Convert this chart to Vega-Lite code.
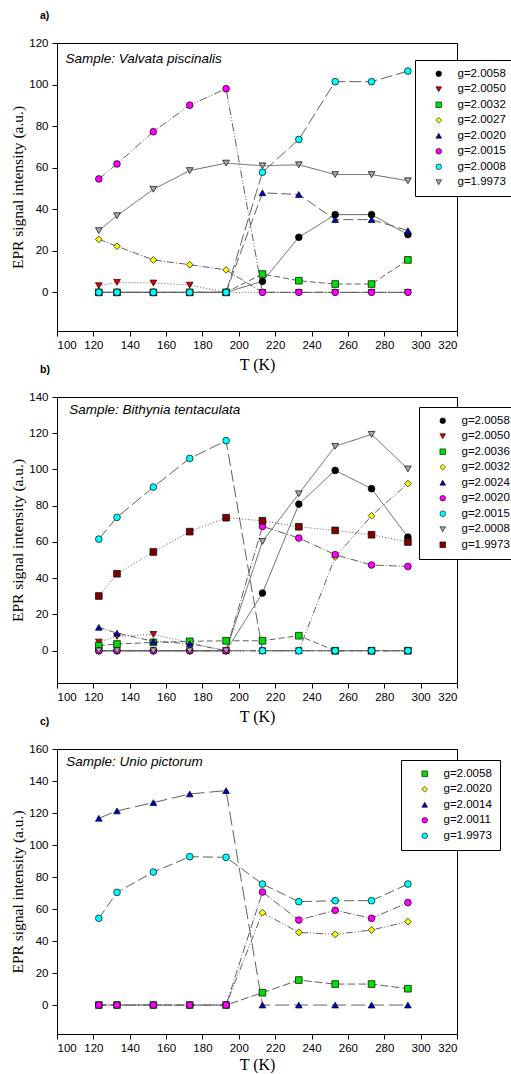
{
"$schema": "https://vega.github.io/schema/vega-lite/v6.json",
"background": "white",
"padding": {"left": 10, "top": 10, "right": 0, "bottom": 0},
"config": {
  "view": {"stroke": "black", "strokeWidth": 1},
  "axis": {"grid": false, "domain": false, "tickColor": "black", "tickSize": 5, "labelFont": "Liberation Sans", "labelFontSize": 11.5, "labelColor": "black", "titleFont": "Liberation Serif", "titleFontWeight": "normal", "titleColor": "black"},
  "axisX": {"titleFontSize": 16, "labelPadding": 3, "titlePadding": 6},
  "axisY": {"titleFontSize": 15.5, "labelPadding": 4, "titlePadding": 3},
  "legend": {"fillColor": "white", "strokeColor": "black", "padding": 8, "symbolOffset": 10, "labelOffset": 13, "labelFont": "Liberation Sans", "labelFontSize": 11.5, "labelColor": "black", "symbolStrokeColor": "black", "symbolStrokeWidth": 0.6, "symbolSize": 32, "rowPadding": 2.5},
  "title": {"anchor": "start", "frame": "group", "font": "Liberation Sans", "fontSize": 10.5, "fontWeight": "bold", "color": "black", "dx": -17, "offset": 16}
},
"datasets": {
"a": [
{"T":123,"s":"g=2.0058","v":0},{"T":133,"s":"g=2.0058","v":0},{"T":153,"s":"g=2.0058","v":0},{"T":173,"s":"g=2.0058","v":0},{"T":193,"s":"g=2.0058","v":0},{"T":213,"s":"g=2.0058","v":5.3},{"T":233,"s":"g=2.0058","v":26.5},{"T":253,"s":"g=2.0058","v":37.4},{"T":273,"s":"g=2.0058","v":37.4},{"T":293,"s":"g=2.0058","v":27.8},
{"T":123,"s":"g=2.0050","v":3.2},{"T":133,"s":"g=2.0050","v":4.8},{"T":153,"s":"g=2.0050","v":4.5},{"T":173,"s":"g=2.0050","v":3.5},{"T":193,"s":"g=2.0050","v":0},{"T":213,"s":"g=2.0050","v":0},{"T":233,"s":"g=2.0050","v":0},{"T":253,"s":"g=2.0050","v":0},{"T":273,"s":"g=2.0050","v":0},{"T":293,"s":"g=2.0050","v":0},
{"T":123,"s":"g=2.0032","v":0},{"T":133,"s":"g=2.0032","v":0},{"T":153,"s":"g=2.0032","v":0},{"T":173,"s":"g=2.0032","v":0},{"T":193,"s":"g=2.0032","v":0},{"T":213,"s":"g=2.0032","v":8.8},{"T":233,"s":"g=2.0032","v":5.6},{"T":253,"s":"g=2.0032","v":4.0},{"T":273,"s":"g=2.0032","v":4.0},{"T":293,"s":"g=2.0032","v":15.6},
{"T":123,"s":"g=2.0027","v":25.5},{"T":133,"s":"g=2.0027","v":22.2},{"T":153,"s":"g=2.0027","v":15.6},{"T":173,"s":"g=2.0027","v":13.3},{"T":193,"s":"g=2.0027","v":10.8},{"T":213,"s":"g=2.0027","v":0},{"T":233,"s":"g=2.0027","v":0},{"T":253,"s":"g=2.0027","v":0},{"T":273,"s":"g=2.0027","v":0},{"T":293,"s":"g=2.0027","v":0},
{"T":123,"s":"g=2.0020","v":0},{"T":133,"s":"g=2.0020","v":0},{"T":153,"s":"g=2.0020","v":0},{"T":173,"s":"g=2.0020","v":0},{"T":193,"s":"g=2.0020","v":0},{"T":213,"s":"g=2.0020","v":47.9},{"T":233,"s":"g=2.0020","v":47.1},{"T":253,"s":"g=2.0020","v":35.0},{"T":273,"s":"g=2.0020","v":35.0},{"T":293,"s":"g=2.0020","v":29.7},
{"T":123,"s":"g=2.0015","v":54.6},{"T":133,"s":"g=2.0015","v":61.8},{"T":153,"s":"g=2.0015","v":77.3},{"T":173,"s":"g=2.0015","v":90.1},{"T":193,"s":"g=2.0015","v":98.0},{"T":213,"s":"g=2.0015","v":0},{"T":233,"s":"g=2.0015","v":0},{"T":253,"s":"g=2.0015","v":0},{"T":273,"s":"g=2.0015","v":0},{"T":293,"s":"g=2.0015","v":0},
{"T":123,"s":"g=2.0008","v":0},{"T":133,"s":"g=2.0008","v":0},{"T":153,"s":"g=2.0008","v":0},{"T":173,"s":"g=2.0008","v":0},{"T":193,"s":"g=2.0008","v":0},{"T":213,"s":"g=2.0008","v":57.8},{"T":233,"s":"g=2.0008","v":73.6},{"T":253,"s":"g=2.0008","v":101.4},{"T":273,"s":"g=2.0008","v":101.4},{"T":293,"s":"g=2.0008","v":106.5},
{"T":123,"s":"g=1.9973","v":29.7},{"T":133,"s":"g=1.9973","v":36.9},{"T":153,"s":"g=1.9973","v":49.6},{"T":173,"s":"g=1.9973","v":58.6},{"T":193,"s":"g=1.9973","v":62.2},{"T":213,"s":"g=1.9973","v":60.9},{"T":233,"s":"g=1.9973","v":61.4},{"T":253,"s":"g=1.9973","v":56.7},{"T":273,"s":"g=1.9973","v":56.7},{"T":293,"s":"g=1.9973","v":53.7}
],
"b": [
{"T":123,"s":"g=2.0058","v":0},{"T":133,"s":"g=2.0058","v":0},{"T":153,"s":"g=2.0058","v":0},{"T":173,"s":"g=2.0058","v":0},{"T":193,"s":"g=2.0058","v":0},{"T":213,"s":"g=2.0058","v":31.8},{"T":233,"s":"g=2.0058","v":80.9},{"T":253,"s":"g=2.0058","v":99.5},{"T":273,"s":"g=2.0058","v":89.4},{"T":293,"s":"g=2.0058","v":62.7},
{"T":123,"s":"g=2.0050","v":4.8},{"T":133,"s":"g=2.0050","v":7.9},{"T":153,"s":"g=2.0050","v":9.0},{"T":173,"s":"g=2.0050","v":4.5},{"T":193,"s":"g=2.0050","v":0},{"T":213,"s":"g=2.0050","v":0},{"T":233,"s":"g=2.0050","v":0},{"T":253,"s":"g=2.0050","v":0},{"T":273,"s":"g=2.0050","v":0},{"T":293,"s":"g=2.0050","v":0},
{"T":123,"s":"g=2.0036","v":2.8},{"T":133,"s":"g=2.0036","v":3.7},{"T":153,"s":"g=2.0036","v":4.6},{"T":173,"s":"g=2.0036","v":5.2},{"T":193,"s":"g=2.0036","v":5.5},{"T":213,"s":"g=2.0036","v":5.5},{"T":233,"s":"g=2.0036","v":8.3},{"T":253,"s":"g=2.0036","v":0},{"T":273,"s":"g=2.0036","v":0},{"T":293,"s":"g=2.0036","v":0},
{"T":123,"s":"g=2.0032","v":0},{"T":133,"s":"g=2.0032","v":0},{"T":153,"s":"g=2.0032","v":0},{"T":173,"s":"g=2.0032","v":0},{"T":193,"s":"g=2.0032","v":0},{"T":213,"s":"g=2.0032","v":0},{"T":233,"s":"g=2.0032","v":0},{"T":253,"s":"g=2.0032","v":51.7},{"T":273,"s":"g=2.0032","v":74.5},{"T":293,"s":"g=2.0032","v":92.2},
{"T":123,"s":"g=2.0024","v":12.9},{"T":133,"s":"g=2.0024","v":9.7},{"T":153,"s":"g=2.0024","v":5.2},{"T":173,"s":"g=2.0024","v":3.9},{"T":193,"s":"g=2.0024","v":0},{"T":213,"s":"g=2.0024","v":0},{"T":233,"s":"g=2.0024","v":0},{"T":253,"s":"g=2.0024","v":0},{"T":273,"s":"g=2.0024","v":0},{"T":293,"s":"g=2.0024","v":0},
{"T":123,"s":"g=2.0020","v":0},{"T":133,"s":"g=2.0020","v":0},{"T":153,"s":"g=2.0020","v":0},{"T":173,"s":"g=2.0020","v":0},{"T":193,"s":"g=2.0020","v":0},{"T":213,"s":"g=2.0020","v":68.6},{"T":233,"s":"g=2.0020","v":62.2},{"T":253,"s":"g=2.0020","v":53.0},{"T":273,"s":"g=2.0020","v":47.3},{"T":293,"s":"g=2.0020","v":46.5},
{"T":123,"s":"g=2.0015","v":61.6},{"T":133,"s":"g=2.0015","v":73.6},{"T":153,"s":"g=2.0015","v":90.3},{"T":173,"s":"g=2.0015","v":106.1},{"T":193,"s":"g=2.0015","v":115.9},{"T":213,"s":"g=2.0015","v":0},{"T":233,"s":"g=2.0015","v":0},{"T":253,"s":"g=2.0015","v":0},{"T":273,"s":"g=2.0015","v":0},{"T":293,"s":"g=2.0015","v":0},
{"T":123,"s":"g=2.0008","v":0},{"T":133,"s":"g=2.0008","v":0},{"T":153,"s":"g=2.0008","v":0},{"T":173,"s":"g=2.0008","v":0},{"T":193,"s":"g=2.0008","v":0},{"T":213,"s":"g=2.0008","v":60.3},{"T":233,"s":"g=2.0008","v":86.6},{"T":253,"s":"g=2.0008","v":112.8},{"T":273,"s":"g=2.0008","v":119.4},{"T":293,"s":"g=2.0008","v":100.3},
{"T":123,"s":"g=1.9973","v":30.2},{"T":133,"s":"g=1.9973","v":42.5},{"T":153,"s":"g=1.9973","v":54.5},{"T":173,"s":"g=1.9973","v":65.7},{"T":193,"s":"g=1.9973","v":73.4},{"T":213,"s":"g=1.9973","v":71.7},{"T":233,"s":"g=1.9973","v":68.4},{"T":253,"s":"g=1.9973","v":66.4},{"T":273,"s":"g=1.9973","v":64.0},{"T":293,"s":"g=1.9973","v":60.0}
],
"c": [
{"T":123,"s":"g=2.0058","v":0},{"T":133,"s":"g=2.0058","v":0},{"T":153,"s":"g=2.0058","v":0},{"T":173,"s":"g=2.0058","v":0},{"T":193,"s":"g=2.0058","v":0},{"T":213,"s":"g=2.0058","v":7.7},{"T":233,"s":"g=2.0058","v":15.6},{"T":253,"s":"g=2.0058","v":13.1},{"T":273,"s":"g=2.0058","v":13.1},{"T":293,"s":"g=2.0058","v":10.2},
{"T":123,"s":"g=2.0020","v":0},{"T":133,"s":"g=2.0020","v":0},{"T":153,"s":"g=2.0020","v":0},{"T":173,"s":"g=2.0020","v":0},{"T":193,"s":"g=2.0020","v":0},{"T":213,"s":"g=2.0020","v":57.7},{"T":233,"s":"g=2.0020","v":45.4},{"T":253,"s":"g=2.0020","v":44.2},{"T":273,"s":"g=2.0020","v":46.9},{"T":293,"s":"g=2.0020","v":52.1},
{"T":123,"s":"g=2.0014","v":116.7},{"T":133,"s":"g=2.0014","v":121.3},{"T":153,"s":"g=2.0014","v":126.5},{"T":173,"s":"g=2.0014","v":131.9},{"T":193,"s":"g=2.0014","v":134.0},{"T":213,"s":"g=2.0014","v":0},{"T":233,"s":"g=2.0014","v":0},{"T":253,"s":"g=2.0014","v":0},{"T":273,"s":"g=2.0014","v":0},{"T":293,"s":"g=2.0014","v":0},
{"T":123,"s":"g=2.0011","v":0},{"T":133,"s":"g=2.0011","v":0},{"T":153,"s":"g=2.0011","v":0},{"T":173,"s":"g=2.0011","v":0},{"T":193,"s":"g=2.0011","v":0},{"T":213,"s":"g=2.0011","v":70.6},{"T":233,"s":"g=2.0011","v":53.1},{"T":253,"s":"g=2.0011","v":59.2},{"T":273,"s":"g=2.0011","v":54.2},{"T":293,"s":"g=2.0011","v":64.0},
{"T":123,"s":"g=1.9973","v":54.2},{"T":133,"s":"g=1.9973","v":70.4},{"T":153,"s":"g=1.9973","v":83.1},{"T":173,"s":"g=1.9973","v":92.7},{"T":193,"s":"g=1.9973","v":92.3},{"T":213,"s":"g=1.9973","v":75.6},{"T":233,"s":"g=1.9973","v":64.6},{"T":253,"s":"g=1.9973","v":65.2},{"T":273,"s":"g=1.9973","v":65.2},{"T":293,"s":"g=1.9973","v":75.6}
]
},
"spacing": 66,
"bounds": "flush",
"resolve": {"scale": {"x": "independent", "y": "independent", "color": "independent", "shape": "independent", "strokeDash": "independent"}, "legend": {"color": "independent", "shape": "independent", "strokeDash": "independent"}},
"vconcat": [
{
  "title": "a)",
  "width": 400, "height": 288,
  "data": {"name": "a"},
  "encoding": {
    "x": {"field": "T", "type": "quantitative", "title": "T (K)", "scale": {"domain": [100, 320], "nice": false, "zero": false}, "axis": {"values": [100,120,140,160,180,200,220,240,260,280,300,320], "labelOverlap": false}},
    "y": {"field": "v", "type": "quantitative", "title": "EPR signal intensity (a.u.)", "scale": {"domain": [-18.6, 120], "nice": false, "zero": false}, "axis": {"values": [0,20,40,60,80,100,120], "labelOverlap": false}}
  },
  "layer": [
    {"mark": {"type": "line", "color": "#606060", "strokeWidth": 1},
     "encoding": {
       "detail": {"field": "s"},
       "strokeDash": {"field": "s", "type": "nominal", "legend": null, "scale": {"domain": ["g=1.9973","g=2.0008","g=2.0015","g=2.0020","g=2.0027","g=2.0032","g=2.0050","g=2.0058"], "range": [[1,0],[12,4],[8,2,1,2,1,2],[10,4],[7,2,1,2],[6,3],[1,2],[1,0]]}}
     }},
    {"mark": {"type": "point", "filled": true, "opacity": 1, "size": 45, "stroke": "black", "strokeWidth": 0.7},
     "encoding": {
       "color": {"field": "s", "type": "nominal", "legend": {"title": null, "orient": "none", "legendX": 358, "legendY": 17}, "scale": {"domain": ["g=2.0058","g=2.0050","g=2.0032","g=2.0027","g=2.0020","g=2.0015","g=2.0008","g=1.9973"], "range": ["#000000","#e00000","#00e000","#ffff00","#0000cc","#ff00ff","#00ffff","#a9a9a9"]}},
       "shape": {"field": "s", "type": "nominal", "legend": {"title": null, "orient": "none", "legendX": 358, "legendY": 17}, "scale": {"domain": ["g=2.0058","g=2.0050","g=2.0032","g=2.0027","g=2.0020","g=2.0015","g=2.0008","g=1.9973"], "range": ["circle","triangle-down","square","diamond","triangle-up","circle","circle","triangle-down"]}}
     }},
    {"data": {"values": [{"label": "Sample: Valvata piscinalis", "x": 104.7, "y": 112.2}]},
     "mark": {"type": "text", "align": "left", "baseline": "middle", "font": "Liberation Sans", "fontSize": 13.5, "fontStyle": "italic", "color": "black"},
     "encoding": {"x": {"field": "x", "type": "quantitative"}, "y": {"field": "y", "type": "quantitative"}, "text": {"field": "label"}}}
  ]
},
{
  "title": "b)",
  "width": 400, "height": 286,
  "data": {"name": "b"},
  "encoding": {
    "x": {"field": "T", "type": "quantitative", "title": "T (K)", "scale": {"domain": [100, 320], "nice": false, "zero": false}, "axis": {"values": [100,120,140,160,180,200,220,240,260,280,300,320], "labelOverlap": false}},
    "y": {"field": "v", "type": "quantitative", "title": "EPR signal intensity (a.u.)", "scale": {"domain": [-17.8, 140], "nice": false, "zero": false}, "axis": {"values": [0,20,40,60,80,100,120,140], "labelOverlap": false}}
  },
  "layer": [
    {"mark": {"type": "line", "color": "#606060", "strokeWidth": 1},
     "encoding": {
       "detail": {"field": "s"},
       "strokeDash": {"field": "s", "type": "nominal", "legend": null, "scale": {"domain": ["g=1.9973","g=2.0008","g=2.0015","g=2.0020","g=2.0024","g=2.0032","g=2.0036","g=2.0050","g=2.0058"], "range": [[1,2],[1,0],[12,4],[8,2,1,2],[6,2,1,2],[7,2,1,2,1,2],[6,3],[1,2],[1,0]]}}
     }},
    {"mark": {"type": "point", "filled": true, "opacity": 1, "size": 45, "stroke": "black", "strokeWidth": 0.7},
     "encoding": {
       "color": {"field": "s", "type": "nominal", "legend": {"title": null, "orient": "none", "legendX": 362, "legendY": 10}, "scale": {"domain": ["g=2.0058","g=2.0050","g=2.0036","g=2.0032","g=2.0024","g=2.0020","g=2.0015","g=2.0008","g=1.9973"], "range": ["#000000","#e00000","#00e000","#ffff00","#0000cc","#ff00ff","#00ffff","#a9a9a9","#800000"]}},
       "shape": {"field": "s", "type": "nominal", "legend": {"title": null, "orient": "none", "legendX": 362, "legendY": 10}, "scale": {"domain": ["g=2.0058","g=2.0050","g=2.0036","g=2.0032","g=2.0024","g=2.0020","g=2.0015","g=2.0008","g=1.9973"], "range": ["circle","triangle-down","square","diamond","triangle-up","circle","circle","triangle-down","square"]}}
     }},
    {"data": {"values": [{"label": "Sample: Bithynia tentaculata", "x": 106.7, "y": 132.6}]},
     "mark": {"type": "text", "align": "left", "baseline": "middle", "font": "Liberation Sans", "fontSize": 13.5, "fontStyle": "italic", "color": "black"},
     "encoding": {"x": {"field": "x", "type": "quantitative"}, "y": {"field": "y", "type": "quantitative"}, "text": {"field": "label"}}}
  ]
},
{
  "title": "c)",
  "width": 400, "height": 285,
  "data": {"name": "c"},
  "encoding": {
    "x": {"field": "T", "type": "quantitative", "title": "T (K)", "scale": {"domain": [100, 320], "nice": false, "zero": false}, "axis": {"values": [100,120,140,160,180,200,220,240,260,280,300,320], "labelOverlap": false, "titlePadding": 3}},
    "y": {"field": "v", "type": "quantitative", "title": "EPR signal intensity (a.u.)", "scale": {"domain": [-18.1, 160], "nice": false, "zero": false}, "axis": {"values": [0,20,40,60,80,100,120,140,160], "labelOverlap": false}}
  },
  "layer": [
    {"mark": {"type": "line", "color": "#606060", "strokeWidth": 1},
     "encoding": {
       "detail": {"field": "s"},
       "strokeDash": {"field": "s", "type": "nominal", "legend": null, "scale": {"domain": ["g=1.9973","g=2.0011","g=2.0014","g=2.0020","g=2.0058"], "range": [[10,4],[8,2,1,2],[14,5],[7,2,1,2,1,2],[8,3]]}}
     }},
    {"mark": {"type": "point", "filled": true, "opacity": 1, "size": 45, "stroke": "black", "strokeWidth": 0.7},
     "encoding": {
       "color": {"field": "s", "type": "nominal", "legend": {"title": null, "orient": "none", "legendX": 344, "legendY": 11}, "scale": {"domain": ["g=2.0058","g=2.0020","g=2.0014","g=2.0011","g=1.9973"], "range": ["#00e000","#ffff00","#0000cc","#ff00ff","#00ffff"]}},
       "shape": {"field": "s", "type": "nominal", "legend": {"title": null, "orient": "none", "legendX": 344, "legendY": 11}, "scale": {"domain": ["g=2.0058","g=2.0020","g=2.0014","g=2.0011","g=1.9973"], "range": ["square","diamond","triangle-up","circle","circle"]}}
     }},
    {"data": {"values": [{"label": "Sample: Unio pictorum", "x": 105.1, "y": 152}]},
     "mark": {"type": "text", "align": "left", "baseline": "middle", "font": "Liberation Sans", "fontSize": 13.5, "fontStyle": "italic", "color": "black"},
     "encoding": {"x": {"field": "x", "type": "quantitative"}, "y": {"field": "y", "type": "quantitative"}, "text": {"field": "label"}}}
  ]
}
]
}
